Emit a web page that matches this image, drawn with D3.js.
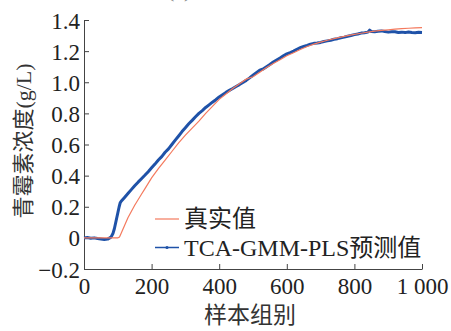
<!DOCTYPE html>
<html>
<head>
<meta charset="utf-8">
<script src="https://cdn.jsdelivr.net/npm/d3@7"></script>
<style>
  body { margin: 0; background: #fff; }
  text { font-family: "Liberation Serif", "Noto Sans CJK SC", serif; fill: #222; }
</style>
</head>
<body>
<div id="chart"></div>
<script>
// sample index for the measured curve
const realX = [0, 50, 100, 105, 110, 120, 130, 140, 150, 160, 170, 180, 190, 200, 220, 240, 260, 280, 300,
  320, 340, 360, 380, 400, 420, 440, 460, 480, 500, 520, 540, 560, 580, 600, 620, 640, 660, 680, 700,
  720, 740, 760, 780, 800, 820, 840, 860, 880, 900, 920, 940, 960, 980, 1000];
const realY = [0, 0, 0, 0.005, 0.03, 0.08, 0.13, 0.17, 0.21, 0.245, 0.28, 0.315, 0.35, 0.385, 0.445, 0.50,
  0.555, 0.61, 0.66, 0.705, 0.75, 0.80, 0.845, 0.89, 0.925, 0.96, 0.99, 1.02, 1.035, 1.065, 1.095, 1.12,
  1.145, 1.17, 1.19, 1.21, 1.23, 1.245, 1.258, 1.27, 1.28, 1.29, 1.30, 1.308, 1.315, 1.322, 1.328, 1.333,
  1.337, 1.341, 1.344, 1.347, 1.349, 1.351];

// TCA-GMM-PLS prediction
const predX = [0, 10, 20, 30, 40, 50, 60, 70, 80, 86, 90, 95, 100, 104, 107, 110, 120, 130, 140, 150, 160,
  170, 180, 190, 200, 210, 220, 230, 240, 250, 260, 270, 280, 290, 300, 310, 320, 330, 340, 350, 360, 370,
  380, 390, 400, 410, 420, 430, 440, 450, 460, 470, 480, 490, 500, 510, 520, 530, 540, 550, 560, 570, 580,
  590, 600, 610, 620, 630, 640, 650, 660, 670, 680, 690, 700, 710, 720, 730, 740, 750, 760, 770, 780, 790,
  800, 810, 820, 830, 840, 845, 850, 860, 870, 880, 890, 900, 910, 920, 930, 940, 950, 960, 970, 980, 990, 1000];
const predY = [0, 0.002, -0.002, 0, -0.004, -0.007, -0.01, -0.008, 0.005, 0.03, 0.06, 0.11, 0.16, 0.2, 0.225,
  0.235, 0.26, 0.285, 0.31, 0.335, 0.358, 0.38, 0.402, 0.425, 0.45, 0.474, 0.5, 0.522, 0.55, 0.572, 0.6,
  0.628, 0.655, 0.683, 0.708, 0.733, 0.755, 0.778, 0.8, 0.818, 0.838, 0.855, 0.872, 0.888, 0.905, 0.92,
  0.935, 0.948, 0.96, 0.973, 0.985, 0.998, 1.012, 1.028, 1.045, 1.062, 1.078, 1.085, 1.1, 1.114, 1.13,
  1.143, 1.156, 1.17, 1.182, 1.19, 1.2, 1.212, 1.222, 1.23, 1.237, 1.245, 1.25, 1.252, 1.256, 1.262, 1.266,
  1.27, 1.276, 1.28, 1.286, 1.29, 1.296, 1.3, 1.306, 1.31, 1.316, 1.318, 1.322, 1.335, 1.326, 1.324, 1.328,
  1.33, 1.326, 1.322, 1.325, 1.324, 1.32, 1.322, 1.319, 1.323, 1.32, 1.318, 1.321, 1.32];

const xTicks = [0, 200, 400, 600, 800, 1000];
const yTicks = [-0.2, 0, 0.2, 0.4, 0.6, 0.8, 1.0, 1.2, 1.4];
const legendLabels = ["真实值", "TCA-GMM-PLS预测值"];

const width = 451, height = 331;
const margin = {top: 20, right: 29, bottom: 62, left: 84};

const svg = d3.select("#chart").append("svg")
    .attr("width", width)
    .attr("height", height);

const x = d3.scaleLinear().domain([0, 1000]).range([margin.left, width - margin.right]);
const y = d3.scaleLinear().domain([-0.2, 1.4]).range([height - margin.bottom, margin.top]);

// panel title, cropped at the top edge as in the source figure
svg.append("text")
    .attr("x", 167).attr("y", -3)
    .style("font-size", "22px").style("fill", "#888")
    .text("(c) 预测结果对比");

const fmtX = d => d === 1000 ? "1 000" : String(d);
const fmtY = d => d === 0 ? "0" : (d < 0 ? "\u2212" : "") + Math.abs(d).toFixed(1);

const xAxis = svg.append("g")
    .attr("transform", `translate(0,${y(-0.2)})`)
    .call(d3.axisBottom(x).tickValues(xTicks).tickFormat(fmtX).tickSizeInner(-5).tickSizeOuter(0).tickPadding(9));
const yAxis = svg.append("g")
    .attr("transform", `translate(${x(0)},0)`)
    .call(d3.axisLeft(y).tickValues(yTicks).tickFormat(fmtY).tickSizeInner(-5).tickSizeOuter(0).tickPadding(4));

[xAxis, yAxis].forEach(a => {
    a.select(".domain").attr("stroke", "#444");
    a.selectAll(".tick line").attr("stroke", "#444");
    a.selectAll(".tick text").style("font-size", "23px").style("font-family", "Liberation Serif").attr("fill", "#222");
});
yAxis.selectAll(".tick text").attr("dy", "0.35em");

const line = d3.line().x(d => x(d[0])).y(d => y(d[1]));

svg.append("path")
    .datum(predX.map((v, i) => [v, predY[i]]))
    .attr("fill", "none")
    .attr("stroke", "#1f52a8")
    .attr("stroke-width", 3)
    .attr("stroke-linejoin", "round")
    .attr("d", line);

svg.append("path")
    .datum(realX.map((v, i) => [v, realY[i]]))
    .attr("fill", "none")
    .attr("stroke", "#f47a5e")
    .attr("stroke-width", 1.2)
    .attr("d", line);

// legend
const legend = svg.append("g");
const colors = ["#f47a5e", "#1f52a8"];
legendLabels.forEach((t, i) => {
    const ly = 219 + i * 28.5;
    legend.append("line")
        .attr("x1", 155).attr("x2", 179).attr("y1", ly).attr("y2", ly)
        .attr("stroke", colors[i]).attr("stroke-width", i ? 1.5 : 1.2);
    if (i) legend.append("circle").attr("cx", 167).attr("cy", ly).attr("r", 1.6).attr("fill", colors[i]);
    legend.append("text")
        .attr("x", 184).attr("y", ly).attr("dy", "0.35em")
        .style("font-size", "24px")
        .text(t);
});

// axis titles
svg.append("text")
    .attr("x", 250).attr("y", 323)
    .attr("text-anchor", "middle")
    .style("font-size", "23px").style("fill", "#333")
    .text("样本组别");

svg.append("text")
    .attr("transform", "translate(31,141) rotate(-90)")
    .attr("text-anchor", "middle")
    .style("font-size", "22px").style("fill", "#333")
    .text("青霉素浓度(g/L)");
</script>
</body>
</html>
